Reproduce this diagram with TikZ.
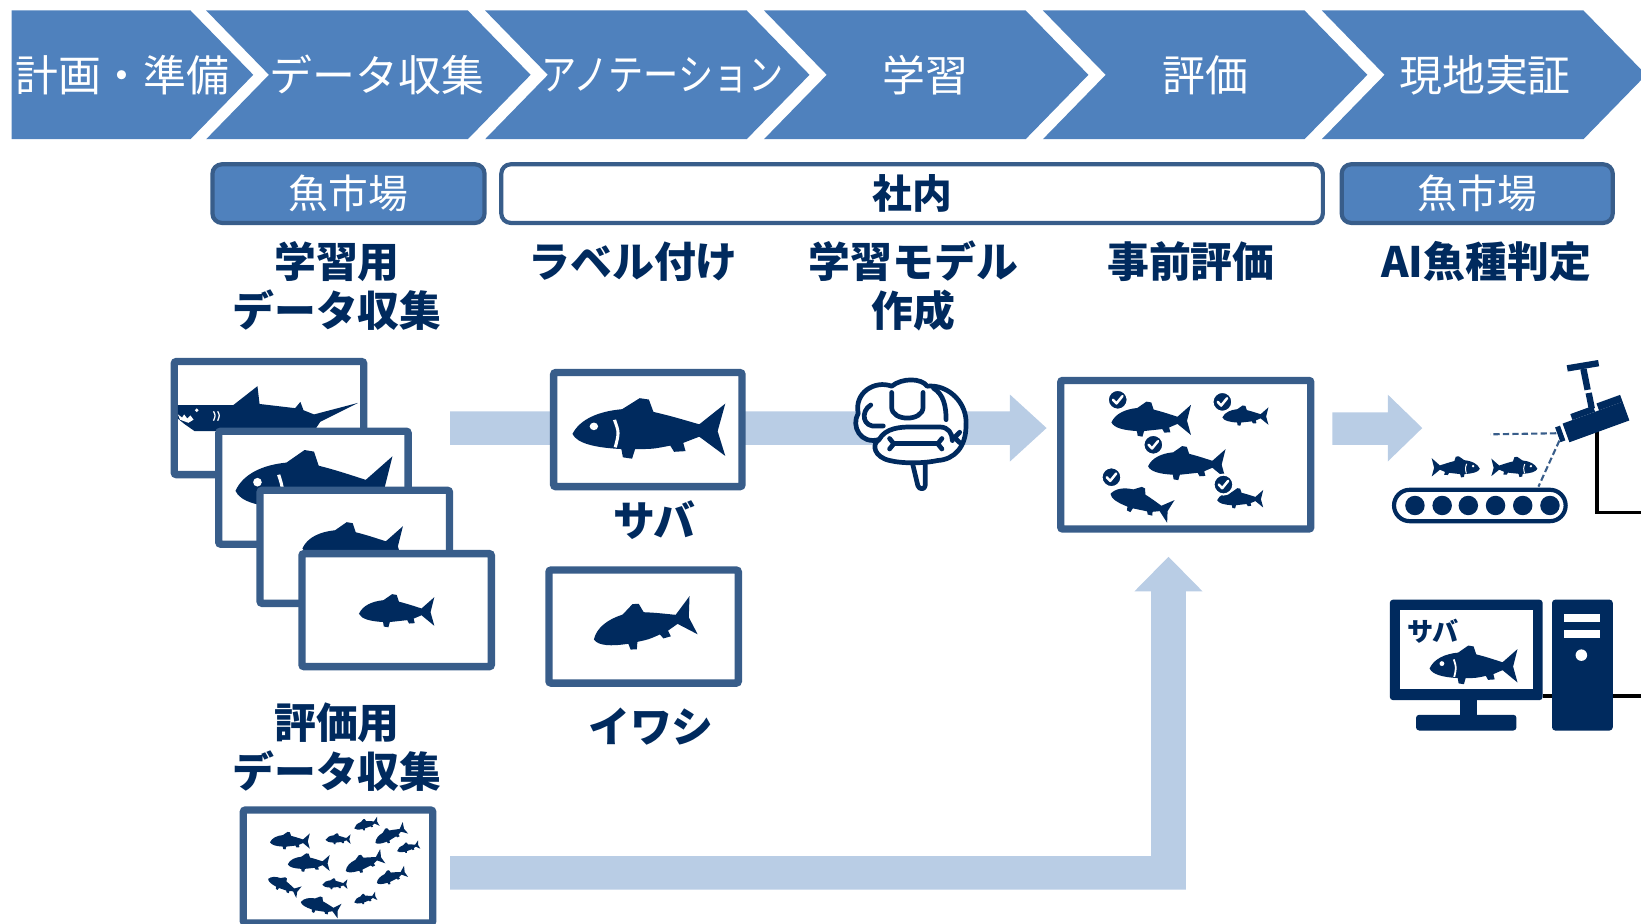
\documentclass[tikz,border=0pt]{standalone}
\usepackage{fontspec}
\setmainfont{Noto Sans CJK JP}
\definecolor{chev}{RGB}{79,129,189}
\definecolor{edgeblue}{RGB}{56,93,138}
\definecolor{navy}{RGB}{0,42,94}
\definecolor{pale}{RGB}{185,205,229}

% fish silhouette, head at x=-1, tail at x=1, y pointing down
\newcommand\fishfill{%
  \fill[navy] (-1,0.04)
    .. controls (-0.9,-0.18) and (-0.65,-0.29) .. (-0.35,-0.32)
    -- (-0.12,-0.48) -- (0,-0.46) -- (0.06,-0.28)
    .. controls (0.3,-0.22) and (0.5,-0.15) .. (0.66,-0.1)
    -- (1,-0.4) -- (0.9,0) -- (1,0.36) -- (0.66,0.08)
    .. controls (0.55,0.13) .. (0.45,0.17)
    -- (0.48,0.29) -- (0.33,0.3) -- (0.28,0.21)
    .. controls (0.05,0.26) .. (-0.18,0.26)
    -- (-0.22,0.4) -- (-0.34,0.38) -- (-0.36,0.26)
    .. controls (-0.7,0.24) and (-0.94,0.18) .. (-1,0.04) -- cycle;}

\tikzset{
  phase/.style={fill=chev},
  phasetext/.style={text=white, inner sep=0, font=\fontsize{41}{41}\selectfont},
  sitebox/.style={draw=edgeblue, line width=4, rounded corners=9, fill=chev,
    minimum height=56, inner sep=0, text=white, font=\fontsize{38}{38}\selectfont},
  inhouse/.style={sitebox, fill=white, text=navy, font=\bfseries\fontsize{38}{38}\selectfont},
  steplabel/.style={text=navy, align=center, inner sep=0, font=\bfseries\fontsize{40}{47}\selectfont},
  photo/.style={draw=edgeblue, line width=7, fill=white, rounded corners=2,
    minimum width=181, minimum height=108, inner sep=0},
  flow/.style={fill=pale},
  brainline/.style={draw=navy, line width=4.5, line cap=round, line join=round},
  cable/.style={draw=black, line width=3},
  sight/.style={draw=edgeblue, line width=2, dash pattern=on 6pt off 3pt},
  fish/.pic={\fishfill},
  sabafish/.pic={
    \fishfill
    \fill[white] (-0.72,-0.07) circle (0.055);
    \fill[white] (-0.43,-0.17) .. controls (-0.37,0.02) .. (-0.42,0.24)
      -- (-0.46,0.23) .. controls (-0.41,0.02) .. (-0.47,-0.16) -- cycle;
  },
  tick/.pic={
    \draw[white, line width=2, fill=navy] (0,0) circle (9.5);
    \draw[white, line width=2.4, line cap=round, line join=round]
      (-4.5,0) -- (-1.2,3.5) -- (4.5,-3.5);
  },
}

\begin{document}
\begin{tikzpicture}[x=1pt, y=-1pt]
\clip (0,0) rectangle (1568,882);

% ---------- phase band ----------
\fill[phase] (11,10) -- (182,10) -- (242,71.5) -- (182,133) -- (11,133) -- cycle;
\foreach \k in {0,...,4} {
  \pgfmathsetmacro\L{197+\k*266.5}
  \pgfmathsetmacro\R{\L+250}
  \fill[phase] (\L,10) -- (\R,10) -- ({\R+60},71.5) -- (\R,133) -- (\L,133)
    -- ({\L+60},71.5) -- cycle;
}
\node[phasetext] (plan)     at (117,72)  {計画・準備};
\node[phasetext] (collect)  at (360,72)  {データ収集};
\node[phasetext] (annotate) at (633,72)  {\scalebox{0.82}[1]{アノテーション}};
\node[phasetext] (train)    at (884,72)  {学習};
\node[phasetext] (assess)   at (1152,72) {評価};
\node[phasetext] (field)    at (1419,72) {現地実証};

% ---------- locations ----------
\node[sitebox, minimum width=260] (market1) at (333,185)    {魚市場};
\node[inhouse, minimum width=785] (office)  at (871.5,185)  {社内};
\node[sitebox, minimum width=259] (market2) at (1411.5,185) {魚市場};

% ---------- step titles ----------
\node[steplabel] (trainset) at (322,273.5) {学習用\\データ収集};
\node[steplabel] (labeling) at (605,250)   {ラベル付け};
\node[steplabel] (modeling) at (873,273.5) {学習モデル\\作成};
\node[steplabel] (precheck) at (1138,250)  {事前評価};
\node[steplabel] (aijudge)  at (1420,250)  {AI魚種判定};

% ---------- flow arrows ----------
\fill[flow] (430,393) -- (965,393) -- (965,377) -- (1000,409) -- (965,441)
  -- (965,425) -- (430,425) -- cycle;
\fill[flow] (1273,394) -- (1326,394) -- (1326,377) -- (1359,409) -- (1326,441)
  -- (1326,425) -- (1273,425) -- cycle;
\fill[flow] (430,818) -- (1100,818) -- (1100,565) -- (1084,565) -- (1116.5,532)
  -- (1149,565) -- (1133,565) -- (1133,850) -- (430,850) -- cycle;

% ---------- training photos ----------
\node[photo] (f1) at (257,399.5) {};
\fill[navy] (170,387) -- (223,387) -- (246,369) -- (248,386) -- (282,390)
  -- (287,384) -- (290,392) -- (300,396) -- (342,385) -- (306,403) -- (300,412)
  -- (186,412) -- (176,405) -- (170,400) -- cycle;
\fill[white] (170,396) -- (174,399) -- (176,396) -- (179,400) -- (182,397)
  -- (185,401) -- (180,404) -- (172,401) -- cycle;
\fill[white] (188,392) circle (1.8);
\draw[white, line width=1.2] (204,393) .. controls (206,397) .. (204,402);
\draw[white, line width=1.2] (208,393) .. controls (210,397) .. (208,402);

\node[photo] (f2) at (299.5,466) {};
\pic[scale=75] at (300,466) {sabafish};
\node[photo] (f3) at (339,522.5) {};
\pic[scale=48] at (337,522) {fish};
\node[photo] (f4) at (379,583) {};
\pic[scale=36] at (379,585) {fish};

% ---------- labelled samples ----------
\node[photo, minimum width=180, minimum height=109] (sabaview) at (619,410.5) {};
\pic[scale=73, yscale=0.9] at (620,412) {sabafish};
\node[steplabel] (sabaname) at (625,497) {サバ};
\node[photo] (iwashiview) at (615,598.7) {};
\pic[rotate=12, scale=49] at (615,599) {fish};
\node[steplabel] (iwashiname) at (622,694) {イワシ};

% ---------- model (brain) ----------
\begin{scope}[shift={(870,405)}]
  \draw[brainline, fill=white] (1,34) -- (7,59) .. controls (8,63) and (14,63) .. (14,59) -- (14,34);
  \draw[brainline, fill=white] (-30,15)
    .. controls (-48,20) and (-57,2) .. (-50,-10)
    .. controls (-54,-30) and (-34,-42) .. (-18,-36)
    .. controls (-8,-44) and (10,-44) .. (16,-36)
    .. controls (36,-38) and (55,-20) .. (53,2)
    .. controls (53,22) and (42,34) .. (26,35)
    .. controls (12,38) and (-8,38) .. (-20,35)
    .. controls (-34,32) and (-38,20) .. (-30,15) -- cycle;
  \draw[brainline] (-30,15) .. controls (-24,4) and (-10,3) .. (0,3) -- (28,3)
    .. controls (36,3) and (40,9) .. (40,16);
  \draw[brainline] (-16,19) -- (26,19);
  \draw[brainline] (-20,14) -- (-16,19) -- (-20,24);
  \draw[brainline] (30,14) -- (26,19) -- (30,24);
  \draw[brainline] (-18,-30) -- (-18,-16) .. controls (-18,-2) and (12,-2) .. (12,-16) -- (12,-30);
  \draw[brainline] (-38,-18) .. controls (-48,-12) and (-46,4) .. (-32,2) -- (-26,2);
  \draw[brainline] (22,-34) .. controls (32,-28) and (34,-16) .. (34,-4);
  \draw[brainline] (47,8) -- (42,13) -- (47,18);
\end{scope}

% ---------- pre-evaluation ----------
\node[photo, minimum width=239, minimum height=142] (evalview) at (1133,434.5) {};
\pic[scale=38] at (1100,402) {fish};
\pic[scale=22] at (1190,398) {fish};
\pic[scale=37] at (1134,444) {fish};
\pic[rotate=-18, scale=30] at (1090,480) {fish};
\pic[scale=22] at (1185,477) {fish};
\pic at (1068,382) {tick};
\pic at (1168,384) {tick};
\pic at (1102,425) {tick};
\pic at (1062,456) {tick};
\pic at (1169,463) {tick};

% ---------- on-site judgement ----------
\coordinate (camjack) at (1526,410);
\coordinate (cableend1) at (1568,490);
\draw[cable] (camjack) |- (cableend1);
\coordinate (pcjack) at (1474,665);
\coordinate (cableend2) at (1568,665);
\draw[cable] (pcjack) -- (cableend2);

\draw[navy, line width=4, fill=white, rounded corners=15] (1332,468) rectangle (1496,498);
\foreach \cx in {1352,1378,1403,1429,1455,1481}
  \fill[navy] (\cx,483) circle (9.3);
\pic[scale=23, xscale=-1] at (1391,447) {sabafish};
\pic[scale=22, xscale=-1] at (1447,447) {sabafish};

\coordinate (lens) at (1487,414);
\coordinate (lensb) at (1490,421);
\coordinate (viewfar) at (1424,415);
\coordinate (viewnear) at (1470,465);
\draw[sight] (lens) -- (viewfar);
\draw[sight] (lensb) -- (viewnear);

\fill[navy] (1497,349) -- (1527,344) -- (1528,350) -- (1498,355) -- cycle;
\fill[navy] (1510,353) -- (1516,352) -- (1520,372) -- (1514,373) -- cycle;
\fill[navy] (1515,376) -- (1521,375) -- (1524,390) -- (1518,391) -- cycle;
\begin{scope}[shift={(1524,402)}, rotate=20]
  \fill[navy] (-30,-8) rectangle (31,11);
  \fill[navy] (-20,-14) rectangle (3,-8);
  \fill[navy] (7,-15) rectangle (31,-8);
  \fill[navy] (-38,-7) rectangle (-33,8);
\end{scope}

% monitor and tower
\fill[navy, rounded corners=3] (1328,573) rectangle (1474,669);
\fill[white] (1338,583) rectangle (1465,658);
\fill[navy] (1395,668) rectangle (1411,685);
\fill[navy, rounded corners=3] (1353,683) rectangle (1449,698);
\node[text=navy, inner sep=0, font=\bfseries\fontsize{25}{25}\selectfont] (screenname) at (1369,603) {サバ};
\pic[scale=42] at (1408,637) {sabafish};
\fill[navy, rounded corners=3] (1483,573) rectangle (1541,698);
\fill[white] (1494,587) rectangle (1529,594);
\fill[white] (1494,602) rectangle (1529,610);
\fill[white] (1511,626) circle (5.5);

% ---------- evaluation set ----------
\node[steplabel] (evalsetname) at (322,714) {評価用\\データ収集};
\node[photo] (evalset) at (323,828) {};
\foreach \fx/\fy/\fs/\fr in {277/804/19/0, 323/802/12/0, 350/788/12/15,
    373/798/16/25, 390/810/11/15, 295/825/20/0, 348/825/19/20, 271/846/16/-25,
    320/845/12/0, 374/838/15/20, 306/866/19/-15, 349/859/11/15}
  \pic[rotate=\fr, scale=\fs] at (\fx,\fy) {fish};
\end{tikzpicture}
\end{document}
